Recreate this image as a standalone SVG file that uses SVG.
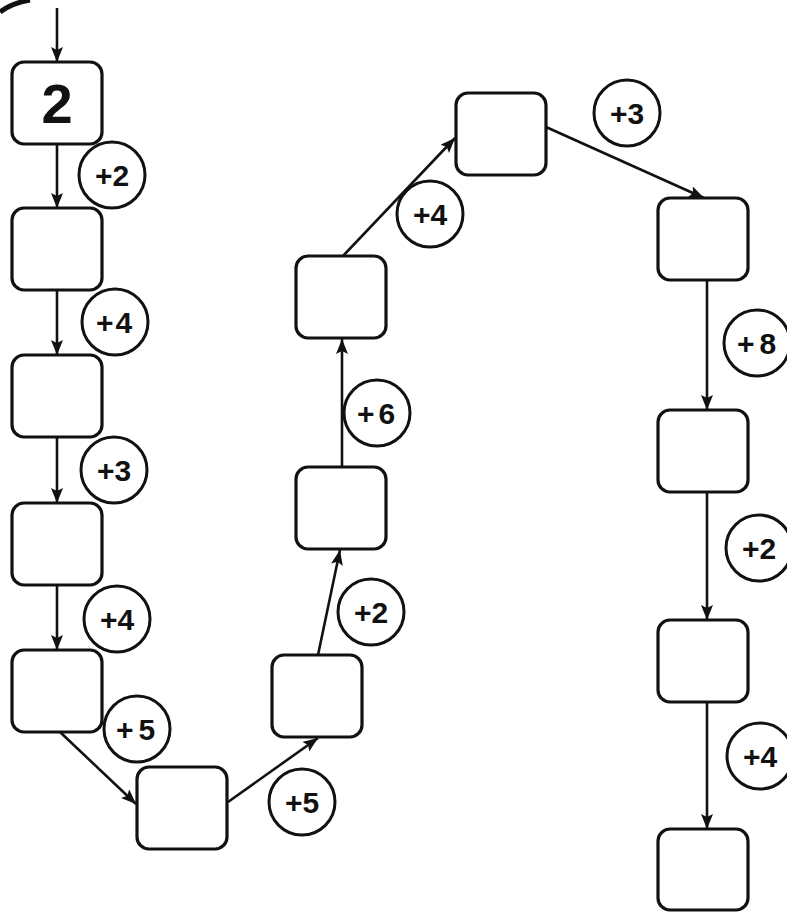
<svg xmlns="http://www.w3.org/2000/svg" width="787" height="912" viewBox="0 0 787 912">
<style>
.box{fill:#fff;stroke:#111;stroke-width:3.2}
.op{fill:#fff;stroke:#111;stroke-width:3}
.lbl{font-family:"Liberation Sans",Arial,sans-serif;font-weight:bold;font-size:30px;fill:#111;text-anchor:middle}
.big{font-family:"Liberation Sans",Arial,sans-serif;font-weight:bold;font-size:56px;fill:#111;text-anchor:middle}
.ln{stroke:#111;stroke-width:2.6;fill:none;marker-end:url(#ah)}
</style>
<defs>
<marker id="ah" markerUnits="userSpaceOnUse" markerWidth="16" markerHeight="14" refX="15" refY="6" orient="auto">
<path d="M0,0 L15,6 L0,12 L3,6 Z" fill="#111"/>
</marker>
</defs>
<rect width="787" height="912" fill="#fff"/>
<path d="M0,12 Q12,3 30,0" stroke="#111" stroke-width="5" fill="none"/>
<g id="connectors">
<line class="ln" x1="57" y1="8" x2="57" y2="62"/>
<line class="ln" x1="57" y1="144" x2="57" y2="208"/>
<line class="ln" x1="57" y1="290" x2="57" y2="355"/>
<line class="ln" x1="57" y1="437" x2="57" y2="503"/>
<line class="ln" x1="57" y1="585" x2="57" y2="650"/>
<line class="ln" x1="60" y1="732" x2="136" y2="804"/>
<line class="ln" x1="228" y1="802" x2="318" y2="738"/>
<line class="ln" x1="318" y1="655" x2="340" y2="550"/>
<line class="ln" x1="342" y1="467" x2="342" y2="339"/>
<line class="ln" x1="343" y1="256" x2="455" y2="138"/>
<line class="ln" x1="546" y1="127" x2="704" y2="198"/>
<line class="ln" x1="707" y1="280" x2="707" y2="410"/>
<line class="ln" x1="707" y1="492" x2="707" y2="620"/>
<line class="ln" x1="707" y1="702" x2="707" y2="829"/>
</g>
<g id="n1"><rect class="box" x="12" y="62" width="90" height="82" rx="12"/><text class="big" x="57" y="123">2</text></g>
<g id="n2"><rect class="box" x="12" y="208" width="90" height="82" rx="12"/></g>
<g id="n3"><rect class="box" x="12" y="355" width="90" height="82" rx="12"/></g>
<g id="n4"><rect class="box" x="12" y="503" width="90" height="82" rx="12"/></g>
<g id="n5"><rect class="box" x="12" y="650" width="90" height="82" rx="12"/></g>
<g id="n6"><rect class="box" x="137" y="767" width="90" height="82" rx="12"/></g>
<g id="n7"><rect class="box" x="272" y="655" width="90" height="82" rx="12"/></g>
<g id="n8"><rect class="box" x="296" y="467" width="90" height="82" rx="12"/></g>
<g id="n9"><rect class="box" x="296" y="256" width="90" height="82" rx="12"/></g>
<g id="n10"><rect class="box" x="456" y="93" width="90" height="82" rx="12"/></g>
<g id="n11"><rect class="box" x="658" y="198" width="90" height="82" rx="12"/></g>
<g id="n12"><rect class="box" x="658" y="410" width="90" height="82" rx="12"/></g>
<g id="n13"><rect class="box" x="658" y="620" width="90" height="82" rx="12"/></g>
<g id="n14"><rect class="box" x="658" y="829" width="90" height="81" rx="12"/></g>
<g id="op1"><circle class="op" cx="112" cy="175" r="33"/><text class="lbl" x="112" y="186">+2</text></g>
<g id="op2"><circle class="op" cx="115" cy="322" r="33"/><text class="lbl" x="115" y="333" letter-spacing="2">+4</text></g>
<g id="op3"><circle class="op" cx="114" cy="470" r="33"/><text class="lbl" x="114" y="481">+3</text></g>
<g id="op4"><circle class="op" cx="117" cy="619" r="33"/><text class="lbl" x="117" y="630">+4</text></g>
<g id="op5"><circle class="op" cx="137" cy="729" r="33"/><text class="lbl" x="138" y="740" letter-spacing="5">+5</text></g>
<g id="op6"><circle class="op" cx="302" cy="802" r="33"/><text class="lbl" x="302" y="813">+5</text></g>
<g id="op7"><circle class="op" cx="371" cy="612" r="33"/><text class="lbl" x="371" y="623">+2</text></g>
<g id="op8"><circle class="op" cx="377" cy="413" r="33"/><text class="lbl" x="378" y="424" letter-spacing="4">+6</text></g>
<g id="op9"><circle class="op" cx="430" cy="214" r="33"/><text class="lbl" x="430" y="225">+4</text></g>
<g id="op10"><circle class="op" cx="627" cy="113" r="33"/><text class="lbl" x="627" y="124">+3</text></g>
<g id="op11"><circle class="op" cx="757" cy="343" r="33"/><text class="lbl" x="759" y="354" letter-spacing="5">+8</text></g>
<g id="op12"><circle class="op" cx="759" cy="548" r="33"/><text class="lbl" x="759" y="559">+2</text></g>
<g id="op13"><circle class="op" cx="760" cy="756" r="33"/><text class="lbl" x="760" y="767">+4</text></g>
</svg>
